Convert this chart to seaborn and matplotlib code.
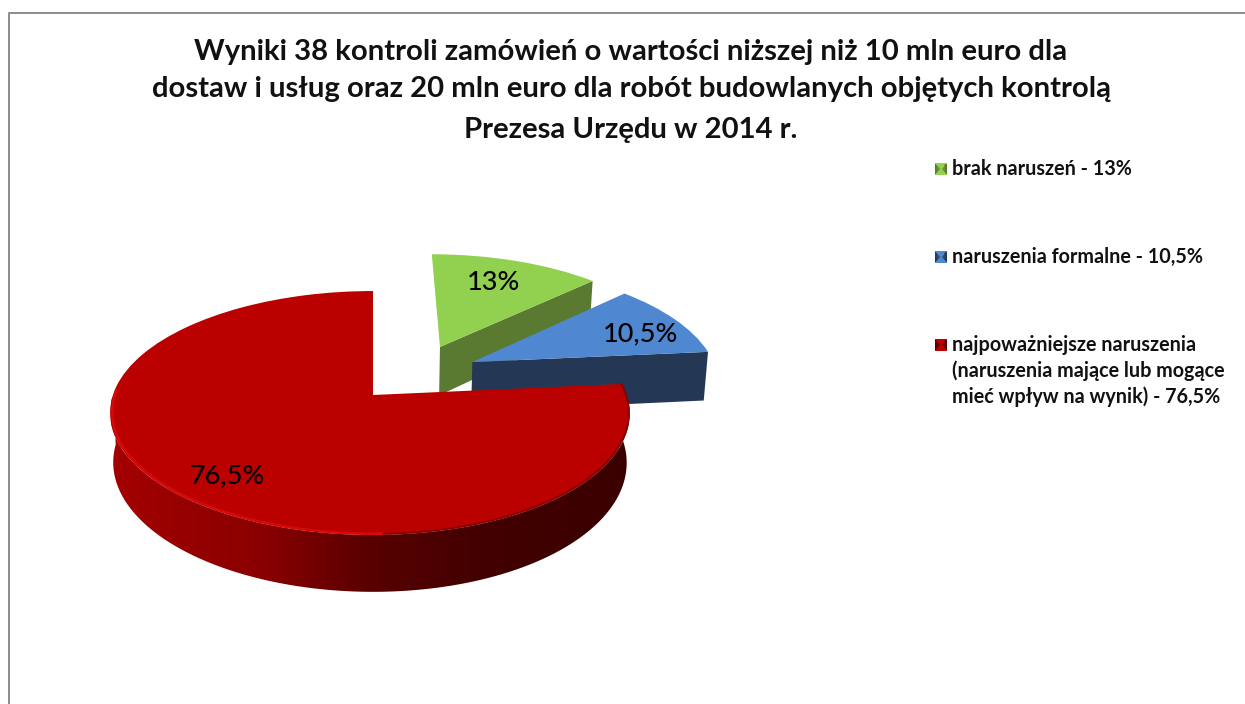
import numpy as np
import matplotlib
matplotlib.use('Agg')
import matplotlib.pyplot as plt
from matplotlib.colors import LinearSegmentedColormap
from matplotlib.patches import Polygon
from matplotlib.transforms import Transform
import seaborn as sns

sns.set_theme(style='white')
plt.rcParams['font.family'] = ['Lato', 'DejaVu Sans']

# Data
title_lines = ['Wyniki 38 kontroli zamówień o wartości niższej niż 10 mln euro dla',
               'dostaw i usług oraz 20 mln euro dla robót budowlanych objętych kontrolą',
               'Prezesa Urzędu w 2014 r.']
shares = [13, 10.5, 76.5]
value_labels = ['13%', '10,5%', '76,5%']
legend_labels = ['brak naruszeń - 13%',
                 'naruszenia formalne - 10,5%',
                 'najpoważniejsze naruszenia\n(naruszenia mające lub mogące\nmieć wpływ na wynik) - 76,5%']

top_colors = sns.color_palette(['#92d050', '#4f88d0', '#bb0000'])
side_colors = ['#5a7a31', '#243856', '#5a0000']

# Layout of the fake 3D pie, everything below is in picture pixels
CX, CY = 373, 395
RX, RY, P = 257, 119.3, 0.1475
DEPTH, SHRINK = 48.5, 0.012
slice_shift = [(0.278, 0.428), (0.405, 0.288), (0, 0)]
label_pos = [(493, 282), (640, 334), (227, 476)]
title_y = [52, 89, 130]
legend_y = [169, 257, 345]


def project(x, y, z=0.0):
    w = 1 + P * y
    px = CX + RX * (x - 0.012 * x * x) / w * (1 - SHRINK * z)
    py = CY - RY * y / w + DEPTH * z / w
    return px, py


class PieProjection(Transform):
    input_dims = 2
    output_dims = 2
    is_separable = False

    def transform_non_affine(self, values):
        values = np.asarray(values)
        px, py = project(values[:, 0], values[:, 1])
        return np.column_stack([px, py])


fig = plt.figure(figsize=(12.45, 7.04), dpi=100)
ax = fig.add_axes([0, 0, 1, 1])

wedges, _ = ax.pie(shares, colors=top_colors, startangle=90, counterclock=False, radius=1)

ax.set_aspect('auto')
projection = PieProjection() + ax.transData

# angles where the slices start and stop, clockwise from the top
edges = 90 - np.cumsum([0] + shares) * 3.6
for i, w in enumerate(wedges):
    w.set_center(slice_shift[i])
    w.set_transform(projection)
    w.set_zorder(2 + 2 * i)
    w.set_edgecolor('none')

# Cut faces of the two pulled out slices
for i in [0, 1]:
    sx, sy = slice_shift[i]
    a = np.radians(edges[i + 1])
    ex, ey = sx + np.cos(a), sy + np.sin(a)
    corners = [project(sx, sy), project(ex, ey), project(ex, ey, 1.06), project(sx, sy, 1.06)]
    ax.add_patch(Polygon(corners, closed=True, fc=side_colors[i], ec='none', zorder=1 + 2 * i))

# Outer wall of the red slice, with the colour running dark to the right
t = np.radians(np.linspace(edges[2] - 185, edges[2], 200))
upper = np.column_stack(project(np.cos(t), np.sin(t)))
lower = np.column_stack(project(np.cos(t), np.sin(t), 1))
wall = Polygon(np.vstack([upper, lower[::-1]]), closed=True, fc='none', ec='none', zorder=5)
ax.add_patch(wall)
wall_cmap = LinearSegmentedColormap.from_list(
    'wall', [(0, '#a40000'), (0.3, '#880000'), (0.5, '#580000'), (0.7, '#440000'), (1, '#3a0000')])
grad = ax.imshow(np.linspace(0, 1, 256)[None, :], cmap=wall_cmap, aspect='auto',
                 extent=(111, 630, 600, 380), zorder=5)
grad.set_clip_path(wall)

# Bright rim along the front of the red top, soft dark edge on the right
t = np.radians(np.linspace(178, 272, 120))
rx, ry = project(0.992 * np.cos(t), 0.992 * np.sin(t))
ax.plot(rx, ry, color='#dc0a0a', lw=1.8, alpha=0.85, zorder=7, solid_capstyle='round')
t = np.radians(np.linspace(272, 360 + edges[2], 120))
rx, ry = project(0.995 * np.cos(t), 0.995 * np.sin(t))
ax.plot(rx, ry, color='#5a0000', lw=1.5, alpha=0.5, zorder=7)

# Value labels
for lab, (x, y) in zip(value_labels, label_pos):
    ax.text(x, y, lab, fontsize=19.5, fontweight='medium', color='black',
            ha='center', va='center', zorder=10)

for line, y in zip(title_lines, title_y):
    ax.text(631, y, line, fontsize=21.1, fontweight='bold', color='#111111',
            ha='center', va='center')

# Legend, the keys are small squares with darker sides
yy, xx = np.mgrid[-1:1:12j, -1:1:12j]
key = (np.abs(xx) > np.abs(yy)).astype(float) * (np.abs(xx) ** 0.5)
for i, lab in enumerate(legend_labels):
    cmap = LinearSegmentedColormap.from_list('key', [top_colors[i], side_colors[i]])
    ax.imshow(key, cmap=cmap, aspect='auto', vmin=0, vmax=1,
              extent=(935, 947, legend_y[i] + 6, legend_y[i] - 6), zorder=3)
    ax.text(952, legend_y[i] - 10, lab, fontsize=14.2, fontweight='bold', color='#111111',
            ha='left', va='top', linespacing=1.33)

# Grey frame, only top and left show
ax.plot([8.5, 8.5, 1245], [704, 12.5, 12.5], color='#8c8c8c', lw=1.4)

ax.set_xlim(0, 1245)
ax.set_ylim(704, 0)
ax.set_axis_off()
fig.savefig('out.png', dpi=100, facecolor='white')
